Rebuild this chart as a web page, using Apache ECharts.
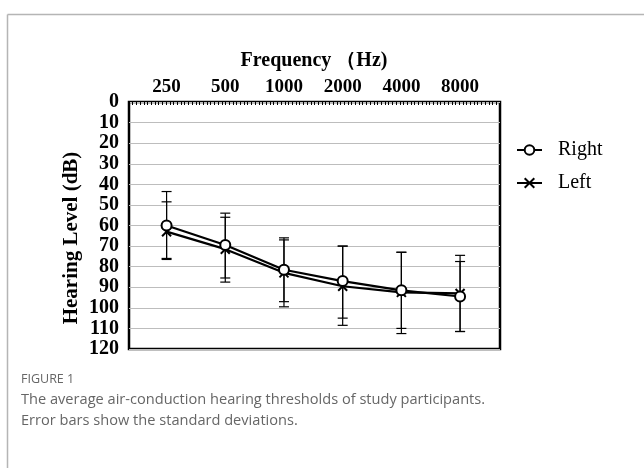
<!DOCTYPE html>
<html>
<head>
<meta charset="utf-8">
<script src="https://cdn.jsdelivr.net/npm/echarts@6/dist/echarts.min.js"></script>
<style>
  html, body { margin: 0; padding: 0; background: #fff; }
  #chart { width: 644px; height: 468px; }
</style>
</head>
<body>
<div id="chart"></div>
<script>
var freqLabels = ['250', '500', '1000', '2000', '4000', '8000'];
var dbTicks = [0, 10, 20, 30, 40, 50, 60, 70, 80, 90, 100, 110, 120];

var rightMean = [60, 69.5, 81.5, 87, 91.5, 94.5];
var rightLow  = [43.5, 54, 66, 70, 73, 74.5];
var rightHigh = [76.5, 85.5, 97, 105, 110, 111.5];

var leftMean = [63, 71.5, 83, 89.5, 92.5, 93];
var leftLow  = [48.5, 56, 67, 70, 73, 77.5];
var leftHigh = [76, 87.5, 99.5, 108.5, 112.5, 111.5];

var serif = '"Liberation Serif", "DejaVu Serif", serif';

function pairs(vals) {
  return vals.map(function(v, i){ return [i, v]; });
}
function errData(low, high) {
  return low.map(function(v, i){ return [i, v, high[i]]; });
}

function errItem(params, api) {
  var p1 = api.coord([api.value(0), api.value(1)]);
  var p2 = api.coord([api.value(0), api.value(2)]);
  var w = 5;
  var st = { stroke: '#000', lineWidth: 1.2 };
  return {
    type: 'group',
    children: [
      { type: 'line', shape: { x1: p1[0], y1: p1[1], x2: p2[0], y2: p2[1] }, style: st },
      { type: 'line', shape: { x1: p1[0]-w, y1: p1[1], x2: p1[0]+w, y2: p1[1] }, style: st },
      { type: 'line', shape: { x1: p2[0]-w, y1: p2[1], x2: p2[0]+w, y2: p2[1] }, style: st }
    ]
  };
}

var myChart = echarts.init(document.getElementById('chart'));
var option = {
  animation: false,
  grid: {
    left: 129, top: 102, right: 144, bottom: 119,
    show: true, borderColor: '#000', borderWidth: 2.5, backgroundColor: 'transparent'
  },
  legend: {
    orient: 'vertical',
    left: 511, top: 135,
    itemWidth: 25, itemHeight: 12, itemGap: 13,
    textStyle: { fontFamily: serif, fontSize: 20, color: '#000', padding: [0, 0, 0, 11] },
    data: ['Right', 'Left']
  },
  xAxis: [
    {
      type: 'value', position: 'top',
      min: -0.64, max: 5.68,
      splitLine: { show: false },
      axisLine: { show: false },
      axisTick: { show: false },
      axisLabel: {
        customValues: [0, 1, 2, 3, 4, 5],
        formatter: function(v){ return freqLabels[Math.round(v)]; },
        fontFamily: serif, fontWeight: 'bold', fontSize: 19, color: '#000', margin: 5
      }
    },
    {
      type: 'value', position: 'top',
      min: 0, max: 100, interval: 1,
      splitLine: { show: false },
      axisLine: { show: false },
      axisLabel: { show: false },
      axisTick: { show: true, inside: true, length: 3, lineStyle: { color: '#000', width: 1 } }
    }
  ],
  yAxis: {
    type: 'value', inverse: true,
    min: 0, max: 120, interval: 10,
    axisLine: { show: false },
    axisTick: { show: false },
    splitLine: { lineStyle: { color: '#bdbdbd', width: 1 } },
    axisLabel: {
      fontFamily: serif, fontWeight: 'bold', fontSize: 20, color: '#000', margin: 10,
      formatter: function(v){ return dbTicks.indexOf(v) >= 0 ? String(v) : ''; }
    }
  },
  graphic: [
    { type: 'line', shape: { x1: 7.5, y1: 14.5, x2: 644, y2: 14.5 }, style: { stroke: '#b5b5b5', lineWidth: 1.5 } },
    { type: 'line', shape: { x1: 7.5, y1: 14.5, x2: 7.5, y2: 468 }, style: { stroke: '#b5b5b5', lineWidth: 1.5 } },
    { type: 'text', style: { x: 314, y: 61, text: 'Frequency （Hz)', font: 'bold 20px ' + serif, fill: '#000', textAlign: 'center', textVerticalAlign: 'middle' } },
    { type: 'text', rotation: Math.PI / 2, x: 72, y: 238, style: { text: 'Hearing Level (dB)', font: 'bold 21px ' + serif, fill: '#000', textAlign: 'center', textVerticalAlign: 'middle' } },
    { type: 'text', style: { x: 21, y: 379, text: 'FIGURE 1', font: '12.5px "Open Sans", sans-serif', fill: '#666', textVerticalAlign: 'middle' } },
    { type: 'text', style: { x: 21, y: 400, text: 'The average air-conduction hearing thresholds of study participants.', font: '14.6px "Open Sans", sans-serif', fill: '#666', textVerticalAlign: 'middle' } },
    { type: 'text', style: { x: 21, y: 421, text: 'Error bars show the standard deviations.', font: '14.6px "Open Sans", sans-serif', fill: '#666', textVerticalAlign: 'middle' } }
  ],
  series: [
    {
      name: 'errRight', type: 'custom', renderItem: errItem,
      data: errData(rightLow, rightHigh), z: 1, silent: true
    },
    {
      name: 'errLeft', type: 'custom', renderItem: errItem,
      data: errData(leftLow, leftHigh), z: 1, silent: true
    },
    {
      name: 'Left', type: 'line', data: pairs(leftMean), z: 3,
      symbol: 'path://M0,0L10,10M10,0L0,10', symbolSize: 9,
      lineStyle: { color: '#000', width: 2.2 },
      itemStyle: { color: '#000', borderColor: '#000', borderWidth: 2 }
    },
    {
      name: 'Right', type: 'line', data: pairs(rightMean), z: 4,
      symbol: 'circle', symbolSize: 10,
      lineStyle: { color: '#000', width: 2.2 },
      itemStyle: { color: '#fff', borderColor: '#000', borderWidth: 2 }
    }
  ]
};
myChart.setOption(option);
</script>
</body>
</html>
